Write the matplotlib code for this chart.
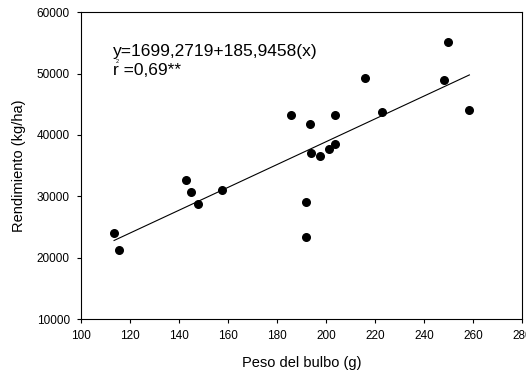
import matplotlib
matplotlib.use("Agg")
import matplotlib.pyplot as plt
import numpy as np

plt.rcParams["font.family"] = ["Liberation Sans", "DejaVu Sans"]

peso = [113.5, 115.6, 142.7, 144.9, 147.6, 157.6, 185.6, 191.8, 191.8, 193.6,
        193.9, 197.6, 201.2, 203.8, 203.8, 215.9, 222.9, 248.3, 249.8, 258.6]
rendimiento = [23970, 21250, 32660, 30760, 28700, 31030, 43260, 29130, 23420, 41740,
               37120, 36580, 37770, 38530, 43260, 49350, 43750, 49020, 55110, 44130]

intercept = 1699.2719
slope = 185.9458

fig = plt.figure(figsize=(5.26, 3.71), dpi=100)
ax = fig.add_axes([0.154, 0.140, 0.838, 0.827])

ax.scatter(peso, rendimiento, s=30, color="black", zorder=3)

xl = np.array([min(peso), max(peso)])
ax.plot(xl, intercept + slope * xl, color="black", linewidth=0.8)

ax.set_xlim(100, 280)
ax.set_ylim(10000, 60000)
ax.set_xticks(range(100, 281, 20))
ax.set_yticks(range(10000, 60001, 10000))
ax.tick_params(direction="out", length=3, width=0.8, labelsize=8.5, pad=5)
for s in ax.spines.values():
    s.set_linewidth(0.8)

ax.set_xlabel("Peso del bulbo (g)", fontsize=10.5, labelpad=10)
ax.set_ylabel("Rendimiento (kg/ha)", fontsize=10.5, labelpad=8)

ax.text(113.2, 53590, "y=1699,2719+185,9458(x)", fontsize=12.5, va="center")
ax.text(113.2, 50430, "r =0,69**", fontsize=12.5, va="center")
ax.text(114.3, 51900, "2", fontsize=4, va="center")

fig.savefig("out.png", dpi=100)
